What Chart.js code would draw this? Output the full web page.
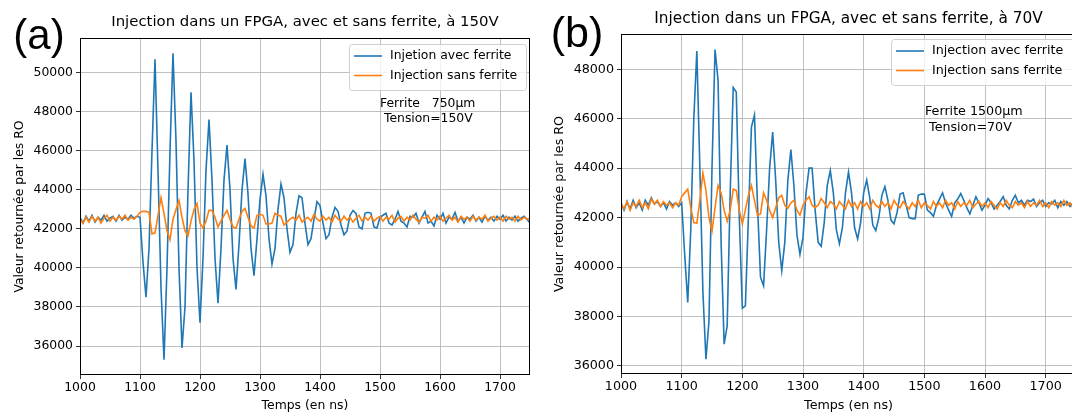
<!DOCTYPE html>
<html>
<head>
<meta charset="utf-8">
<script src="https://cdn.jsdelivr.net/npm/chart.js@4.4.0/dist/chart.umd.min.js"></script>
<style>
  body { margin: 0; width: 1072px; height: 415px; overflow: hidden; background: #fff; position: relative; }
  .panel { position: absolute; top: 0; }
</style>
</head>
<body>
<div class="panel" style="left:0"><canvas id="chartA" width="540" height="415"></canvas></div>
<div class="panel" style="left:540px"><canvas id="chartB" width="560" height="415"></canvas></div>
<script>
// sample times (ns)
const timesNs = [
  1000, 1005, 1010, 1015, 1020, 1025, 1030, 1035, 1040, 1045, 1050, 1055, 1060, 1065, 1070, 1075, 1080, 1085, 1090, 1095,
  1100, 1105, 1110, 1115, 1120, 1125, 1130, 1135, 1140, 1145, 1150, 1155, 1160, 1165, 1170, 1175, 1180, 1185, 1190, 1195,
  1200, 1205, 1210, 1215, 1220, 1225, 1230, 1235, 1240, 1245, 1250, 1255, 1260, 1265, 1270, 1275, 1280, 1285, 1290, 1295,
  1300, 1305, 1310, 1315, 1320, 1325, 1330, 1335, 1340, 1345, 1350, 1355, 1360, 1365, 1370, 1375, 1380, 1385, 1390, 1395,
  1400, 1405, 1410, 1415, 1420, 1425, 1430, 1435, 1440, 1445, 1450, 1455, 1460, 1465, 1470, 1475, 1480, 1485, 1490, 1495,
  1500, 1505, 1510, 1515, 1520, 1525, 1530, 1535, 1540, 1545, 1550, 1555, 1560, 1565, 1570, 1575, 1580, 1585, 1590, 1595,
  1600, 1605, 1610, 1615, 1620, 1625, 1630, 1635, 1640, 1645, 1650, 1655, 1660, 1665, 1670, 1675, 1680, 1685, 1690, 1695,
  1700, 1705, 1710, 1715, 1720, 1725, 1730, 1735, 1740, 1745, 1750
];
const xTicks = [1000, 1100, 1200, 1300, 1400, 1500, 1600, 1700];

// (a) 150V, ferrite 750um
const avecFerriteA = [
  42600, 42300, 42650, 42400, 42700, 42350, 42600, 42450, 42700, 42400, 42550, 42650, 42400, 42700, 42450, 42600, 42500, 42700, 42550, 42650,
  42600, 40300, 38500, 41000, 46000, 50700, 45000, 39000, 35300, 40000, 46000, 51000, 46500, 40000, 35900, 38000, 44000, 49000, 45500, 40000,
  37200, 40500, 45000, 47600, 44500, 40500, 38200, 41000, 44500, 46300, 44000, 40500, 38900, 41200, 44000, 45600, 43800, 41000, 39600, 41500,
  43500, 44800, 43700, 41500, 40200, 41000, 43000, 44300, 43600, 42000, 40800, 41200, 42800, 43700, 43600, 42300, 41200, 41500, 42500, 43400,
  43200, 42300, 41500, 41700, 42600, 43100, 42900, 42200, 41700, 41900, 42700, 42950, 42800, 42100, 42000, 42800, 42850, 42800, 42100, 42050,
  42600, 42700, 42800, 42300, 42200, 42500, 42900, 42400, 42300, 42100, 42650, 42600, 42800, 42300, 42600, 42900, 42300, 42400, 42150, 42700,
  42500, 42800, 42300, 42600, 42500, 42850, 42400, 42600, 42300, 42600, 42500, 42700, 42400, 42600, 42350, 42650, 42450, 42600, 42400, 42650,
  42500, 42700, 42400, 42600, 42450, 42650, 42400, 42550, 42650, 42500, 42300
];
const sansFerriteA = [
  42500, 42300, 42600, 42350, 42650, 42400, 42600, 42300, 42550, 42700, 42400, 42600, 42450, 42650, 42500, 42700, 42450, 42600, 42500, 42650,
  42850, 42900, 42900, 42850, 41750, 41800, 42700, 43600, 42800, 41900, 41450, 42500, 43000, 43450, 42600, 41900, 41650, 42400, 43000, 43300,
  42300, 42050, 42400, 42950, 42950, 42600, 42100, 42400, 42700, 42950, 42500, 42100, 42050, 42500, 42900, 43050, 42600, 42150, 42050, 42700,
  42750, 42700, 42250, 42250, 42300, 42800, 42700, 42650, 42200, 42350, 42500, 42600, 42450, 42700, 42350, 42500, 42600, 42400, 42750, 42500,
  42400, 42650, 42450, 42600, 42350, 42700, 42500, 42400, 42650, 42450, 42600, 42350, 42550, 42700, 42400, 42600, 42450, 42650, 42400, 42550,
  42650, 42400, 42600, 42500, 42700, 42350, 42550, 42650, 42400, 42600, 42450, 42700, 42500, 42350, 42600, 42550, 42700, 42400, 42600, 42450,
  42650, 42400, 42550, 42700, 42450, 42600, 42350, 42650, 42500, 42600, 42400, 42650, 42450, 42600, 42500, 42700, 42400, 42550, 42650, 42450,
  42600, 42400, 42650, 42500, 42600, 42400, 42650, 42450, 42600, 42500, 42550
];
const yTicksA = [36000, 38000, 40000, 42000, 44000, 46000, 48000, 50000];
const labelsA = ['Injetion avec ferrite', 'Injection sans ferrite'];

// (b) 70V, ferrite 1500um
const avecFerriteB = [
  42600, 42300, 42650, 42350, 42700, 42400, 42600, 42300, 42700, 42500, 42800, 42550, 42650, 42450, 42600, 42350, 42650, 42500, 42600, 42450,
  42600, 40500, 38570, 41500, 46000, 48740, 44000, 39000, 36270, 37800, 44000, 48800, 47550, 41000, 36880, 37620, 43000, 47260, 47080, 42000,
  38340, 38430, 42000, 45660, 46150, 42500, 39580, 39240, 41500, 44000, 45460, 43500, 41000, 39850, 41000, 43500, 44750, 43300, 41300, 40510,
  41200, 43000, 44000, 44000, 42300, 41000, 40840, 41800, 43300, 43900, 43000, 41500, 40940, 41600, 43000, 43840, 43000, 41600, 41140, 41800,
  43000, 43520, 42800, 41700, 41480, 42000, 42900, 43250, 42700, 41900, 41750, 42200, 42950, 43000, 42500, 42000, 41960, 41960, 42900, 42950,
  42950, 42300, 42200, 42050, 42500, 42750, 43000, 42600, 42300, 42050, 42600, 42750, 42970, 42700, 42400, 42150, 42500, 42840, 42600, 42300,
  42500, 42770, 42600, 42350, 42500, 42650, 42850, 42500, 42350, 42700, 42900, 42600, 42700, 42500, 42700, 42650, 42750, 42450, 42600, 42700,
  42450, 42600, 42550, 42700, 42400, 42650, 42500, 42650, 42450, 42600, 42500
];
const sansFerriteB = [
  42550, 42350, 42650, 42300, 42600, 42450, 42700, 42400, 42600, 42350, 42750, 42550, 42700, 42450, 42650, 42500, 42600, 42400, 42600, 42500,
  42850, 43000, 43150, 42400, 41800, 41770, 42700, 43800, 43100, 42000, 41450, 42400, 43300, 43000, 42300, 41850, 42300, 43150, 43100, 42300,
  41750, 42300, 42900, 43300, 42700, 42100, 42150, 43000, 42700, 42300, 42000, 42400, 42800, 42900, 42500, 42370, 42600, 42700, 42300, 42100,
  42500, 42700, 42840, 42500, 42400, 42500, 42770, 42600, 42400, 42650, 42550, 42350, 42650, 42500, 42350, 42700, 42450, 42600, 42350, 42650,
  42450, 42600, 42350, 42700, 42500, 42400, 42650, 42450, 42600, 42350, 42700, 42500, 42400, 42650, 42500, 42350, 42600, 42450, 42700, 42400,
  42600, 42500, 42350, 42650, 42450, 42600, 42400, 42700, 42500, 42600, 42350, 42650, 42450, 42600, 42500, 42700, 42400, 42550, 42650, 42450,
  42600, 42400, 42650, 42500, 42350, 42600, 42450, 42700, 42500, 42400, 42650, 42500, 42600, 42400, 42650, 42450, 42600, 42500, 42700, 42450,
  42600, 42400, 42650, 42500, 42600, 42450, 42700, 42500, 42600, 42400, 42550
];
const yTicksB = [36000, 38000, 40000, 42000, 44000, 46000, 48000];
const labelsB = ['Injection avec ferrite', 'Injection sans ferrite'];

const BLUE = '#1f77b4';
const ORANGE = '#ff7f0e';
const FAMILY = '"DejaVu Sans", sans-serif';

function toPoints(ys) {
  return timesNs.map((t, i) => ({ x: t, y: ys[i] }));
}

// draws frame, title, (a)/(b), legend box and the ferrite note
function overlayPlugin(o) {
  return {
    id: 'overlay',
    afterDraw(chart) {
      const ctx = chart.ctx;
      const a = chart.chartArea;
      ctx.save();
      ctx.strokeStyle = '#000';
      ctx.lineWidth = 1;
      ctx.strokeRect(Math.round(a.left) + 0.5, Math.round(a.top) + 0.5,
        Math.round(a.right - a.left) - 1, Math.round(a.bottom - a.top) - 1);

      ctx.fillStyle = '#000';
      ctx.textBaseline = 'middle';
      ctx.textAlign = 'center';
      ctx.font = o.titleSize + 'px ' + FAMILY;
      ctx.fillText(o.title, (a.left + a.right) / 2, o.titleY);

      ctx.font = o.letterSize + 'px "Liberation Sans", Arial, sans-serif';
      ctx.fillText(o.letter, o.letterX, o.letterY);

      // legend
      const lg = o.legend;
      ctx.beginPath();
      ctx.roundRect(lg.x + 0.5, lg.y + 0.5, lg.w, lg.h, 3);
      ctx.fillStyle = 'rgba(255,255,255,0.8)';
      ctx.fill();
      ctx.strokeStyle = '#d0d0d0';
      ctx.stroke();
      ctx.textAlign = 'left';
      ctx.font = o.fs + 'px ' + FAMILY;
      [BLUE, ORANGE].forEach((c, i) => {
        const y = lg.y + lg.row0 + i * lg.dy;
        ctx.strokeStyle = c;
        ctx.lineWidth = 1.6;
        ctx.beginPath();
        ctx.moveTo(lg.x + 5, y);
        ctx.lineTo(lg.x + 33, y);
        ctx.stroke();
        ctx.fillStyle = '#000';
        ctx.fillText(o.labels[i], lg.x + 41, y);
      });

      ctx.font = o.fs + 'px ' + FAMILY;
      o.note.forEach((line, i) => ctx.fillText(line, o.noteX, o.noteY + i * o.fs * 1.2));
      ctx.restore();
    }
  };
}

function makeChart(id, o) {
  new Chart(document.getElementById(id), {
    type: 'line',
    data: {
      datasets: [
        { label: o.labels[0], data: toPoints(o.blue), borderColor: BLUE, borderWidth: 1.6, pointRadius: 0, tension: 0, order: 1 },
        { label: o.labels[1], data: toPoints(o.orange), borderColor: ORANGE, borderWidth: 1.6, pointRadius: 0, tension: 0, order: 0 }
      ]
    },
    options: {
      responsive: false,
      animation: false,
      layout: { padding: { left: 0, right: o.padRight, top: o.top, bottom: 0 } },
      plugins: { legend: { display: false }, tooltip: { enabled: false } },
      scales: {
        x: {
          type: 'linear', min: 1000, max: 1750,
          afterBuildTicks: s => { s.ticks = xTicks.map(v => ({ value: v })); },
          afterFit: s => { s.height = 415 - o.bottom; },
          grid: { color: '#b0b0b0', lineWidth: 0.8, tickColor: '#000', tickLength: 4 },
          border: { display: false },
          ticks: { color: '#000', font: { family: FAMILY, size: o.fs }, padding: 1, maxRotation: 0, autoSkip: false, callback: v => String(v) },
          title: { display: true, text: 'Temps (en ns)', color: '#000', font: { family: FAMILY, size: o.fs }, padding: { top: 0, bottom: 2 } }
        },
        y: {
          min: o.yMin, max: o.yMax,
          afterBuildTicks: s => { s.ticks = o.yTicks.map(v => ({ value: v })); },
          afterFit: s => { s.width = o.yWidth; },
          grid: { color: '#b0b0b0', lineWidth: 0.8, tickColor: '#000', tickLength: 4 },
          border: { display: false },
          ticks: { color: '#000', font: { family: FAMILY, size: o.fs }, padding: 3, callback: v => String(v) },
          title: { display: true, text: 'Valeur retournée par les RO', color: '#000', font: { family: FAMILY, size: o.fs }, padding: { top: 12, bottom: 0 } }
        }
      }
    },
    plugins: [overlayPlugin(o)]
  });
}

makeChart('chartA', {
  blue: avecFerriteA, orange: sansFerriteA, labels: labelsA,
  yMin: 34515, yMax: 51785, yTicks: yTicksA,
  yWidth: 80, padRight: 10, top: 38, bottom: 375, fs: 12.4,
  title: 'Injection dans un FPGA, avec et sans ferrite, à 150V', titleSize: 14.9, titleY: 22,
  letter: '(a)', letterSize: 42, letterX: 39, letterY: 37,
  legend: { x: 349, y: 44, w: 177, h: 46, row0: 12, dy: 19.5 },
  note: ['Ferrite   750µm', ' Tension=150V'], noteX: 380, noteY: 104
});

makeChart('chartB', {
  blue: avecFerriteB, orange: sansFerriteB, labels: labelsB,
  yMin: 35675, yMax: 49425, yTicks: yTicksB,
  yWidth: 81, padRight: 24, top: 34, bottom: 374, fs: 12.7,
  title: 'Injection dans un FPGA, avec et sans ferrite, à 70V', titleSize: 15.3, titleY: 19,
  letter: '(b)', letterSize: 43, letterX: 37, letterY: 35,
  legend: { x: 351, y: 39, w: 190, h: 46, row0: 12, dy: 19.5 },
  note: ['Ferrite 1500µm', ' Tension=70V'], noteX: 385, noteY: 112
});
</script>
</body>
</html>
